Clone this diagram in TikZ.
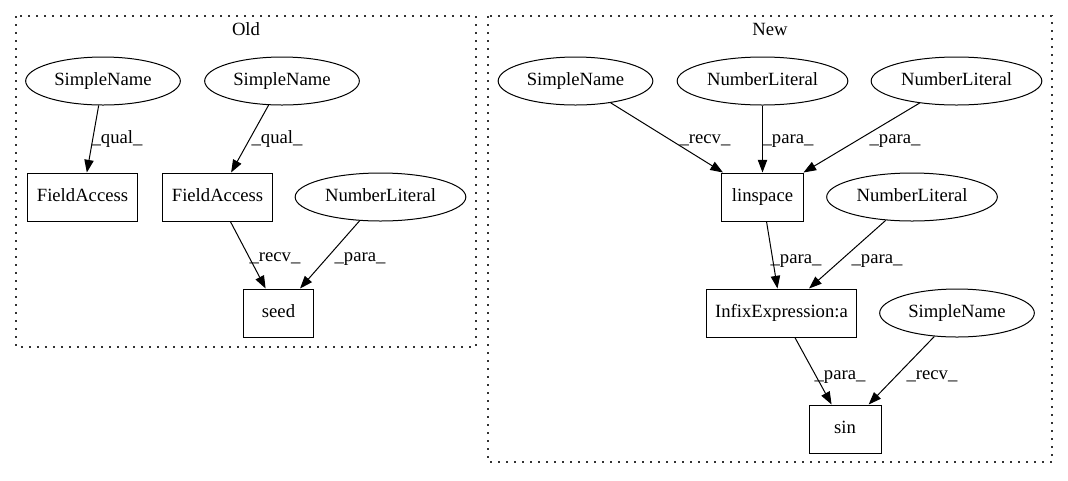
\documentclass[tikz,border=0pt]{standalone}
\usepackage{fontspec}
\setmainfont{Liberation Serif}
\usetikzlibrary{shapes.geometric,arrows.meta}
\tikzset{
  base/.style={draw, line width=0.75pt, inner sep=0pt, text height=10pt, text depth=3pt, font=\fontsize{14}{16}\selectfont},
  ell/.style={base, ellipse, minimum height=36pt},
  sn/.style={ell, minimum width=116pt},
  nl/.style={ell, minimum width=128pt},
  box/.style={base, rectangle, minimum height=36pt},
  lab/.style={anchor=base, inner sep=0pt, font=\fontsize{14}{16}\selectfont},
  edge/.style={line width=0.75pt, -{Triangle[length=9.5pt,width=7pt]}},
  cluster/.style={line width=0.9pt, dash pattern=on 1.2pt off 4.8pt, draw=black!80}
}
\begin{document}
\begin{tikzpicture}[x=0.75pt,y=-0.75pt]
\useasboundingbox (0,0) rectangle (1068,480);
% clusters
\draw[cluster] (16,16) rectangle (476,347);
\node[lab] (toldtitle) at (246,35) {Old};
\draw[cluster] (488,16) rectangle (1052,462);
\node[lab] (tnewtitle) at (770,35) {New};
% Old nodes
\node[sn] (osn1) at (103,81) {SimpleName};
\node[sn] (osn2) at (282,81) {SimpleName};
\node[box, minimum width=83pt] (ofa1) at (82.5,197) {FieldAccess};
\node[box, minimum width=83pt] (ofa2) at (217.5,197) {FieldAccess};
\node[nl] (onl) at (380.5,197) {NumberLiteral};
\node[box, minimum width=53pt] (oseed) at (278.5,313) {seed};
% New nodes
\node[sn] (nsn) at (575.5,81) {SimpleName};
\node[nl] (nnl1) at (762.5,81) {NumberLiteral};
\node[nl] (nnl2) at (956.5,81) {NumberLiteral};
\node[box, minimum width=61pt] (nlin) at (762.5,197) {linspace};
\node[nl] (nnl3) at (912,197) {NumberLiteral};
\node[box, minimum width=112pt] (ninf) at (781.5,313) {InfixExpression:a};
\node[sn] (nsn2) at (957,313) {SimpleName};
\node[box, minimum width=54pt] (nsin) at (845,429) {sin};
% Old edges
\draw[edge] (osn1) -- (ofa1);
\draw[edge] (osn2) -- (ofa2);
\draw[edge] (ofa2) -- (oseed);
\draw[edge] (onl) -- (oseed);
\node[lab] (l1) at (117,143) {\_qual\_};
\node[lab] (l2) at (277,143) {\_qual\_};
\node[lab] (l3) at (275,261) {\_recv\_};
\node[lab] (l4) at (360,261) {\_para\_};
% New edges
\draw[edge] (nsn) -- (nlin);
\draw[edge] (nnl1) -- (nlin);
\draw[edge] (nnl2) -- (nlin);
\draw[edge] (nlin) -- (ninf);
\draw[edge] (nnl3) -- (ninf);
\draw[edge] (ninf) -- (nsin);
\draw[edge] (nsn2) -- (nsin);
\node[lab] (l5) at (705,143) {\_recv\_};
\node[lab] (l6) at (788,143) {\_para\_};
\node[lab] (l7) at (895,143) {\_para\_};
\node[lab] (l8) at (796,263) {\_para\_};
\node[lab] (l9) at (877,263) {\_para\_};
\node[lab] (l10) at (840,379) {\_para\_};
\node[lab] (l11) at (932,379) {\_recv\_};
\end{tikzpicture}
\end{document}
